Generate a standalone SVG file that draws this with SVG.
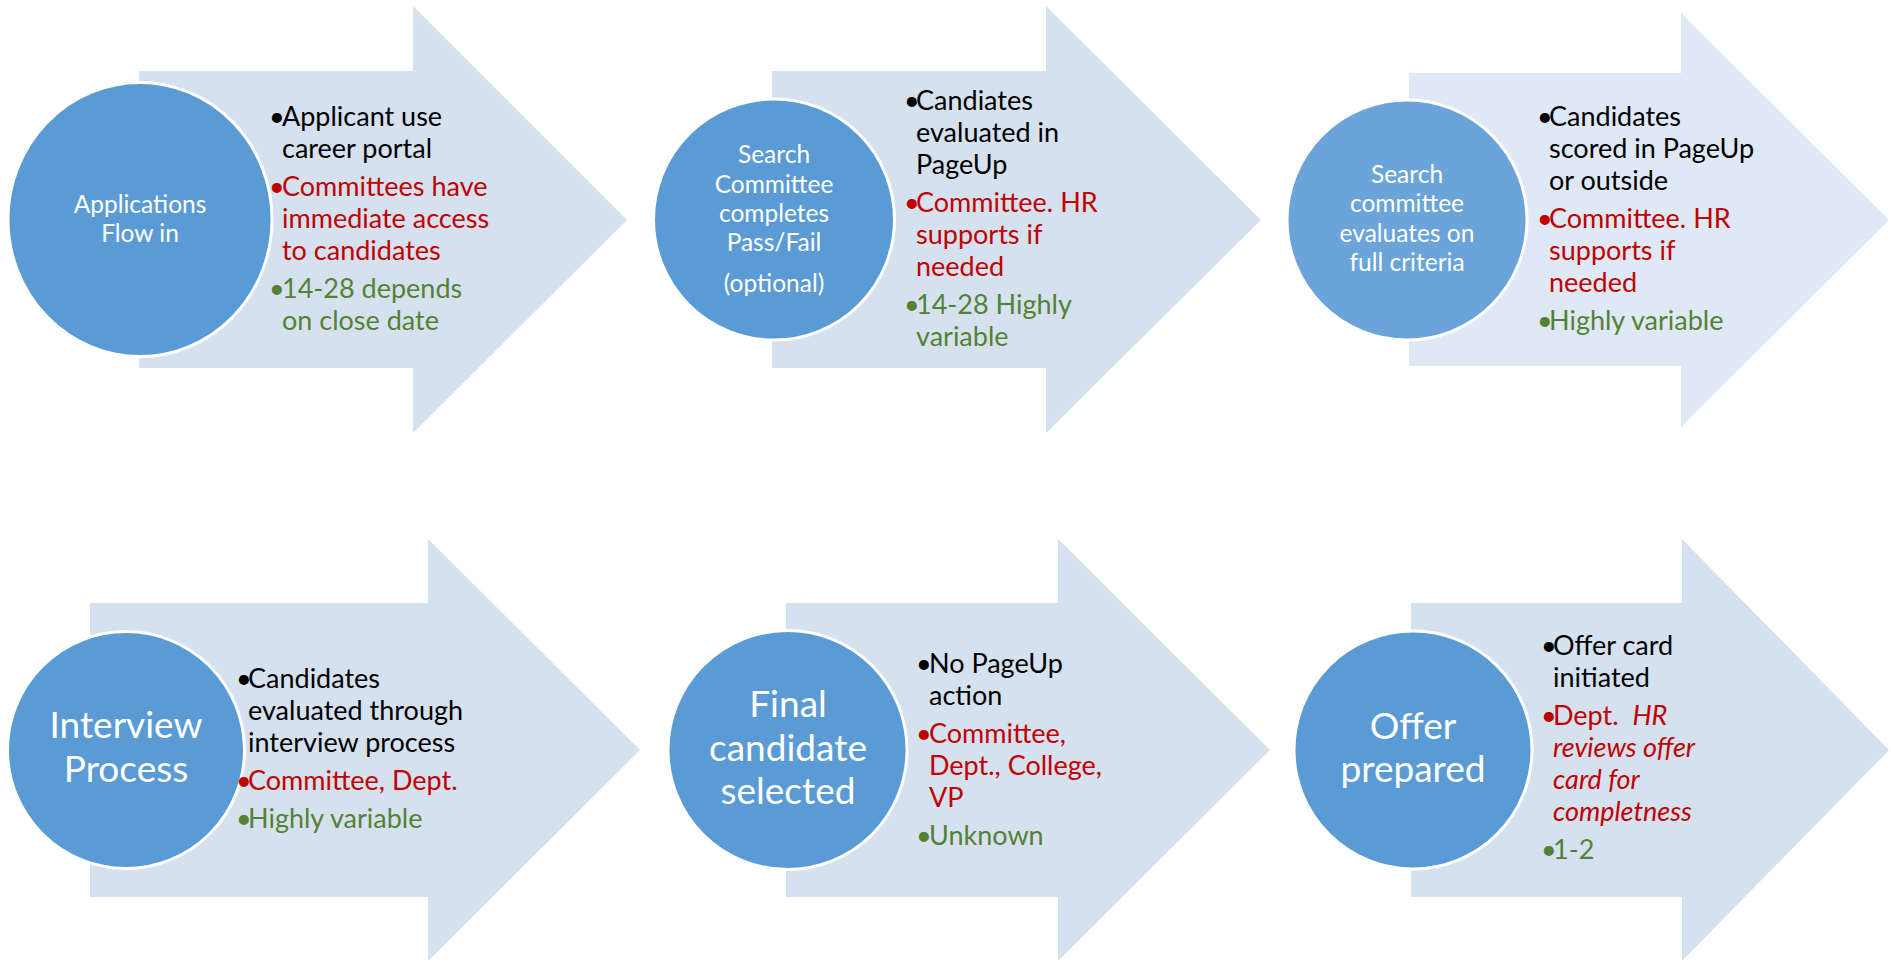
<svg xmlns="http://www.w3.org/2000/svg" width="1891" height="964" viewBox="0 0 1891 964">
<style>
.arrow{fill:#d6e1ef}
.arrow.light{fill:#dfe9f5}
.node{fill:#5b9bd5;stroke:#ffffff;stroke-width:3}
.node.light{fill:#6aa4d9}
.ct{font-family:Lato,"Liberation Sans",sans-serif;fill:#ffffff;text-anchor:middle;font-size:24.5px}
.ctl{font-size:37px}
.bt{font-family:Lato,"Liberation Sans",sans-serif;font-size:27px}
.k{fill:#000000}
.r{fill:#c00000}
.g{fill:#548235}
.it{font-style:italic}
</style>
<rect width="1891" height="964" fill="#ffffff"/>

<g id="step1">
<polygon class="arrow" points="139,71 413,71 413,6 627,220 413,433 413,368 139,368"/>
<ellipse class="node" cx="140" cy="219.5" rx="132" ry="137"/>
<text class="ct"><tspan x="140" y="213">Applications</tspan><tspan x="140" y="242">Flow in</tspan></text>
<text class="bt k"><tspan x="269" y="126">•</tspan><tspan x="282" y="126">Applicant use</tspan><tspan x="282" y="158">career portal</tspan></text>
<text class="bt r"><tspan x="269" y="196">•</tspan><tspan x="282" y="196">Committees have</tspan><tspan x="282" y="228">immediate access</tspan><tspan x="282" y="260">to candidates</tspan></text>
<text class="bt g"><tspan x="269" y="298">•</tspan><tspan x="282" y="298">14-28 depends</tspan><tspan x="282" y="330">on close date</tspan></text>
</g>

<g id="step2">
<polygon class="arrow" points="772,71 1046,71 1046,6 1261,220 1046,433 1046,368 772,368"/>
<circle class="node" cx="774" cy="219.5" r="120.5"/>
<text class="ct"><tspan x="774" y="163">Search</tspan><tspan x="774" y="193">Committee</tspan><tspan x="774" y="222">completes</tspan><tspan x="774" y="251">Pass/Fail</tspan><tspan x="774" y="292">(optional)</tspan></text>
<text class="bt k"><tspan x="904" y="110">•</tspan><tspan x="916" y="110">Candiates</tspan><tspan x="916" y="142">evaluated in</tspan><tspan x="916" y="174">PageUp</tspan></text>
<text class="bt r"><tspan x="904" y="212">•</tspan><tspan x="916" y="212">Committee. HR</tspan><tspan x="916" y="244">supports if</tspan><tspan x="916" y="276">needed</tspan></text>
<text class="bt g"><tspan x="904" y="314">•</tspan><tspan x="916" y="314">14-28 Highly</tspan><tspan x="916" y="346">variable</tspan></text>
</g>

<g id="step3">
<polygon class="arrow light" points="1409,73 1681,73 1681,13 1889,220 1681,427 1681,366 1409,366"/>
<circle class="node light" cx="1407" cy="220" r="120"/>
<text class="ct"><tspan x="1407" y="183">Search</tspan><tspan x="1407" y="212">committee</tspan><tspan x="1407" y="242">evaluates on</tspan><tspan x="1407" y="271">full criteria</tspan></text>
<text class="bt k"><tspan x="1537" y="126">•</tspan><tspan x="1549" y="126">Candidates</tspan><tspan x="1549" y="158">scored in PageUp</tspan><tspan x="1549" y="190">or outside</tspan></text>
<text class="bt r"><tspan x="1537" y="228">•</tspan><tspan x="1549" y="228">Committee. HR</tspan><tspan x="1549" y="260">supports if</tspan><tspan x="1549" y="292">needed</tspan></text>
<text class="bt g"><tspan x="1537" y="330">•</tspan><tspan x="1549" y="330">Highly variable</tspan></text>
</g>

<g id="step4">
<polygon class="arrow" points="90,603 428,603 428,539 640,750 428,961 428,897 90,897"/>
<circle class="node" cx="126" cy="750" r="118.5"/>
<text class="ct ctl"><tspan x="126" y="738">Interview</tspan><tspan x="126" y="782">Process</tspan></text>
<text class="bt k"><tspan x="236" y="688">•</tspan><tspan x="248" y="688">Candidates</tspan><tspan x="248" y="720">evaluated through</tspan><tspan x="248" y="752">interview process</tspan></text>
<text class="bt r"><tspan x="236" y="790">•</tspan><tspan x="248" y="790">Committee, Dept.</tspan></text>
<text class="bt g"><tspan x="236" y="828">•</tspan><tspan x="248" y="828">Highly variable</tspan></text>
</g>

<g id="step5">
<polygon class="arrow" points="786,603 1058,603 1058,539 1270,750 1058,961 1058,897 786,897"/>
<circle class="node" cx="787.5" cy="750" r="119.5"/>
<text class="ct ctl"><tspan x="788" y="717">Final</tspan><tspan x="788" y="761">candidate</tspan><tspan x="788" y="804">selected</tspan></text>
<text class="bt k"><tspan x="916" y="673">•</tspan><tspan x="929" y="673">No PageUp</tspan><tspan x="929" y="705">action</tspan></text>
<text class="bt r"><tspan x="916" y="743">•</tspan><tspan x="929" y="743">Committee,</tspan><tspan x="929" y="775">Dept., College,</tspan><tspan x="929" y="807">VP</tspan></text>
<text class="bt g"><tspan x="916" y="845">•</tspan><tspan x="929" y="845">Unknown</tspan></text>
</g>

<g id="step6">
<polygon class="arrow" points="1411,603 1682,603 1682,539 1889,750 1682,961 1682,897 1411,897"/>
<circle class="node" cx="1413" cy="750" r="119"/>
<text class="ct ctl"><tspan x="1413" y="739">Offer</tspan><tspan x="1413" y="782">prepared</tspan></text>
<text class="bt k"><tspan x="1541" y="655">•</tspan><tspan x="1553" y="655">Offer card</tspan><tspan x="1553" y="687">initiated</tspan></text>
<text class="bt r"><tspan x="1541" y="725">•</tspan><tspan x="1553" y="725">Dept.&#160; <tspan class="it">HR</tspan></tspan><tspan class="it" x="1553" y="757">reviews offer</tspan><tspan class="it" x="1553" y="789">card for</tspan><tspan class="it" x="1553" y="821">completness</tspan></text>
<text class="bt g"><tspan x="1541" y="859">•</tspan><tspan x="1553" y="859">1-2</tspan></text>
</g>
</svg>
